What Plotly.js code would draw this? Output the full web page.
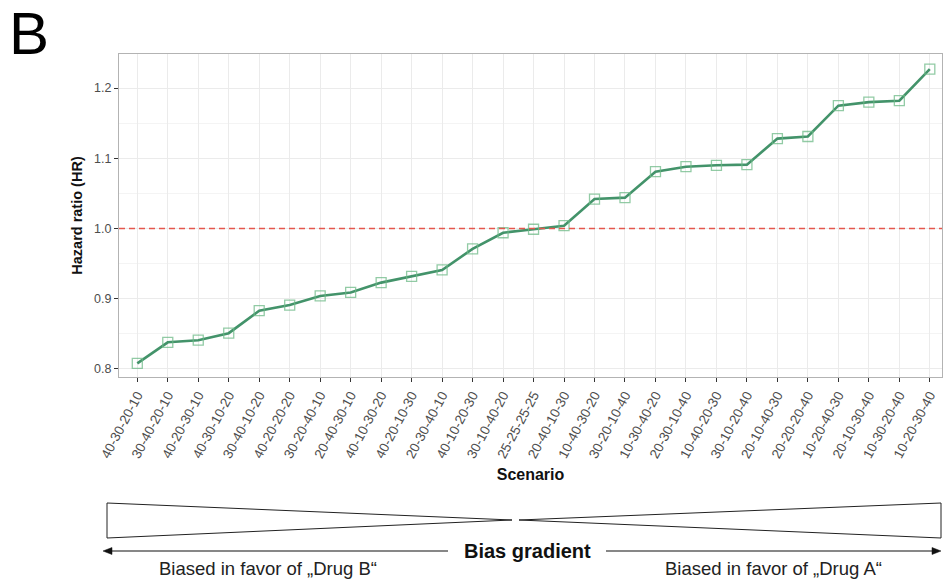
<!DOCTYPE html>
<html><head><meta charset="utf-8">
<script src="https://cdn.plot.ly/plotly-3.0.1.min.js"></script>
<style>html,body{margin:0;padding:0;background:#fff}#chart{width:943px;height:580px}</style>
</head><body><div id="chart"></div>
<script>
const scenarios = ["40-30-20-10","30-40-20-10","40-20-30-10","40-30-10-20","30-40-10-20","40-20-20-20","30-20-40-10","20-40-30-10","40-10-30-20","40-20-10-30","20-30-40-10","40-10-20-30","30-10-40-20","25-25-25-25","20-40-10-30","10-40-30-20","30-20-10-40","10-30-40-20","20-30-10-40","10-40-20-30","30-10-20-40","20-10-40-30","20-20-20-40","10-20-40-30","20-10-30-40","10-30-20-40","10-20-30-40"];
const hr = [0.808,0.838,0.841,0.851,0.883,0.891,0.904,0.909,0.923,0.932,0.941,0.971,0.994,0.999,1.004,1.042,1.044,1.081,1.088,1.090,1.091,1.128,1.131,1.175,1.180,1.182,1.227];
const yTicks = [0.8,0.9,1.0,1.1,1.2];
const refLine = 1.0;

// pixel helpers for decorations below the plot
const L=119, R=942, T=54, B=377;
const px = x => (x-L)/(R-L);
const py = y => (B-y)/(B-T);
const sans = "Liberation Sans, Arial, sans-serif";

const trace = {
  x: scenarios, y: hr, type: 'scatter', mode: 'lines+markers',
  line: {color: '#43936a', width: 2.6},
  marker: {symbol: 'square-open', size: 10, color: 'rgba(110,185,135,0.75)', line: {width: 1.3}},
  hoverinfo: 'x+y', showlegend: false
};

const layout = {
  width: 943, height: 580,
  margin: {l: L, r: 943-R, t: T, b: 580-B},
  paper_bgcolor: '#fff', plot_bgcolor: '#fff',
  font: {family: sans, color: '#4d4d4d', size: 12},
  xaxis: {
    type: 'category', range: [-0.6, 26.4],
    tickangle: -62, tickfont: {size: 13.5, color: '#4d4d4d'},
    showgrid: true, gridcolor: '#ebebeb', gridwidth: 1,
    ticks: 'outside', ticklen: 4, tickcolor: '#333',
    showline: true, mirror: true, linecolor: '#b3b3b3', linewidth: 1,
    zeroline: false,
    title: {text: '<b>Scenario</b>', font: {size: 16, color: '#111'}, standoff: 8}
  },
  yaxis: {
    range: [0.7886, 1.2485], tickvals: yTicks, tickformat: '.1f',
    tickfont: {size: 12.5, color: '#4d4d4d'},
    showgrid: true, gridcolor: '#ebebeb', gridwidth: 1,
    minor: {dtick: 0.05, tick0: 0.75, showgrid: true, gridcolor: '#f4f4f4', gridwidth: 1},
    ticks: 'outside', ticklen: 4, tickcolor: '#333',
    showline: true, mirror: true, linecolor: '#b3b3b3', linewidth: 1,
    zeroline: false,
    title: {text: '<b>Hazard ratio (HR)</b>', font: {size: 14.5, color: '#111'}, standoff: 8}
  },
  shapes: [
    {type: 'line', xref: 'paper', yref: 'y', x0: 0, x1: 1, y0: refLine, y1: refLine,
     line: {color: '#e5574d', width: 1.6, dash: '6px,4px'}},
    {type: 'path', xref: 'paper', yref: 'paper',
     path: `M ${px(107)} ${py(503)} L ${px(512)} ${py(520)} L ${px(107)} ${py(538)} Z`,
     line: {color: '#222', width: 1}, fillcolor: 'rgba(0,0,0,0)'},
    {type: 'path', xref: 'paper', yref: 'paper',
     path: `M ${px(941)} ${py(503)} L ${px(519)} ${py(520)} L ${px(941)} ${py(538)} Z`,
     line: {color: '#222', width: 1}, fillcolor: 'rgba(0,0,0,0)'},
    {type: 'line', xref: 'paper', yref: 'paper', x0: px(110), x1: px(448), y0: py(551), y1: py(551),
     line: {color: '#111', width: 1.2}},
    {type: 'line', xref: 'paper', yref: 'paper', x0: px(606), x1: px(934), y0: py(551), y1: py(551),
     line: {color: '#111', width: 1.2}},
    {type: 'path', xref: 'paper', yref: 'paper',
     path: `M ${px(103)} ${py(551)} L ${px(112)} ${py(547.5)} L ${px(112)} ${py(554.5)} Z`,
     line: {color: '#111', width: 0.5}, fillcolor: '#111'},
    {type: 'path', xref: 'paper', yref: 'paper',
     path: `M ${px(941)} ${py(551)} L ${px(932)} ${py(547.5)} L ${px(932)} ${py(554.5)} Z`,
     line: {color: '#111', width: 0.5}, fillcolor: '#111'}
  ],
  annotations: [
    {text: 'B', xref: 'paper', yref: 'paper', x: px(7), y: py(-2), xanchor: 'left', yanchor: 'top',
     showarrow: false, font: {family: sans, size: 60, color: '#000'}},
    {text: '<b>Bias gradient</b>', xref: 'paper', yref: 'paper', x: px(527), y: py(551), xanchor: 'center', yanchor: 'middle',
     showarrow: false, font: {family: sans, size: 20, color: '#111'}},
    {text: 'Biased in favor of „Drug B“', xref: 'paper', yref: 'paper', x: px(268), y: py(568), xanchor: 'center', yanchor: 'middle',
     showarrow: false, font: {family: sans, size: 18.5, color: '#222'}},
    {text: 'Biased in favor of „Drug A“', xref: 'paper', yref: 'paper', x: px(773), y: py(568), xanchor: 'center', yanchor: 'middle',
     showarrow: false, font: {family: sans, size: 18.5, color: '#222'}}
  ]
};

Plotly.newPlot('chart', [trace], layout, {displayModeBar: false, staticPlot: true});
</script></body></html>
